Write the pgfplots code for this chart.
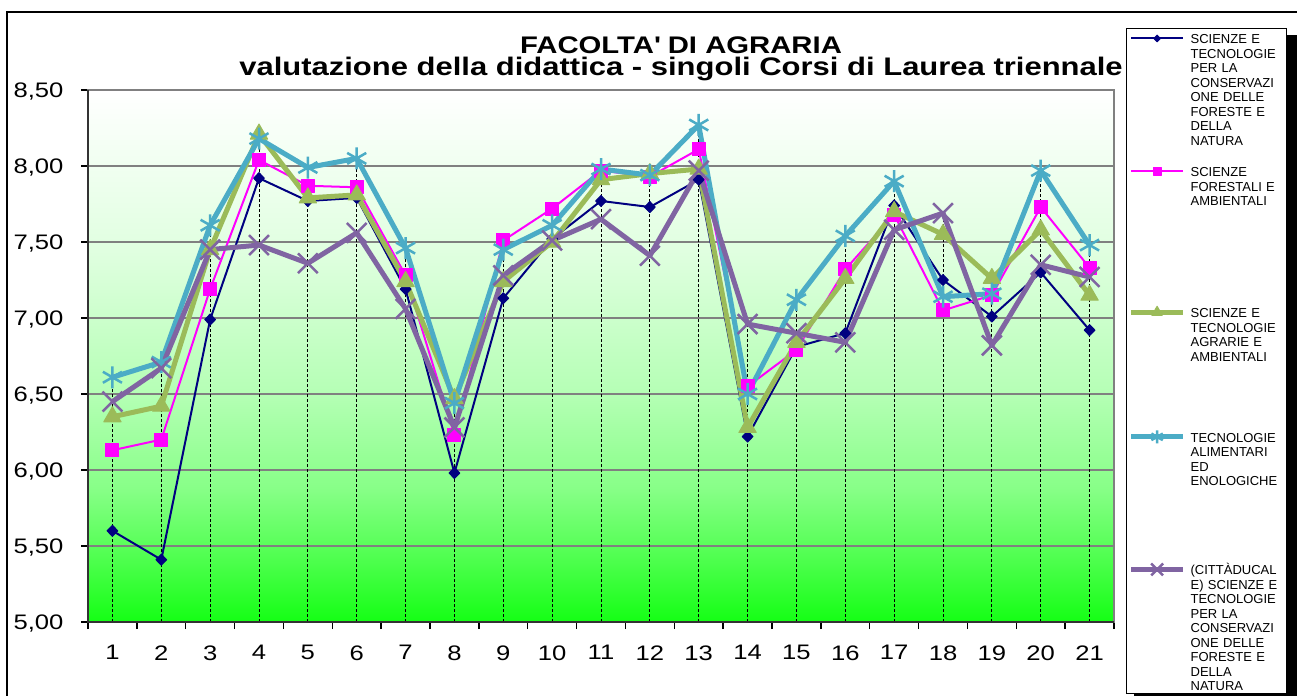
\documentclass[border=0pt]{standalone}
\usepackage{pgfplots}
\pgfplotsset{compat=1.18}
\usepackage{pgfplotstable}
\usepackage{fontspec}
\setmainfont{Liberation Sans}[FakeStretch=1.22]
\newfontfamily\legfont{Liberation Sans}

\definecolor{navyc}{RGB}{0,0,128}
\definecolor{magc}{RGB}{255,0,255}
\definecolor{grnc}{RGB}{155,187,89}
\definecolor{cyac}{RGB}{75,172,198}
\definecolor{purc}{RGB}{128,100,162}

\pgfdeclareverticalshading{plotgrad}{100bp}{rgb(0bp)=(0.08,1,0.08); rgb(25bp)=(0.08,1,0.08); rgb(31bp)=(0.31,1,0.31); rgb(37.5bp)=(0.53,1,0.53); rgb(46.5bp)=(0.71,1,0.71); rgb(60bp)=(0.88,1,0.88); rgb(75bp)=(1,1,1); rgb(100bp)=(1,1,1)}

\newcommand\LS{\rule{0pt}{12bp}}
\newcommand\LD[1]{\rule[-#1]{0pt}{#1}}

\pgfplotstableread{
c nav mag grn cya pur top
1  5.60 6.13 6.35 6.61 6.45 6.61
2  5.41 6.20 6.42 6.71 6.67 6.71
3  6.99 7.19 7.45 7.61 7.45 7.61
4  7.92 8.04 8.21 8.18 7.48 8.21
5  7.77 7.87 7.79 7.99 7.36 7.99
6  7.79 7.86 7.81 8.05 7.56 8.05
7  7.19 7.28 7.24 7.46 7.06 7.46
8  5.98 6.23 6.47 6.44 6.28 6.47
9  7.13 7.51 7.24 7.45 7.28 7.51
10 7.52 7.72 7.50 7.61 7.51 7.72
11 7.77 7.97 7.91 7.98 7.65 7.98
12 7.73 7.93 7.95 7.94 7.41 7.95
13 7.91 8.11 7.98 8.27 7.97 8.27
14 6.22 6.55 6.28 6.50 6.96 6.96
15 6.81 6.79 6.84 7.12 6.90 7.12
16 6.90 7.32 7.26 7.54 6.84 7.54
17 7.74 7.68 7.70 7.90 7.58 7.90
18 7.25 7.05 7.55 7.14 7.69 7.69
19 7.01 7.15 7.26 7.16 6.82 7.26
20 7.30 7.73 7.58 7.97 7.35 7.97
21 6.92 7.33 7.15 7.48 7.27 7.48
}\data

\begin{document}
\begin{tikzpicture}
\path[use as bounding box] (0bp,0bp) rectangle (1297bp,-696bp);
\draw[line width=2bp] (7bp,-698bp) -- (7bp,-12bp) -- (1299bp,-12bp);
% legend shadow
\fill[black] (1134bp,-35bp) rectangle (1300bp,-700bp);
\begin{axis}[
  at={(88bp,-622bp)}, anchor=south west,
  scale only axis, width=1026bp, height=532bp,
  xmin=0.5, xmax=21.5, ymin=5, ymax=8.5,
  xtick={1,...,21},
  minor xtick={0.5,1.5,...,21.5},
  ytick={5,5.5,6,6.5,7,7.5,8,8.5},
  tick align=outside, tick pos=left,
  major x tick style={draw=none},
  minor x tick style={black, line width=1.5bp},
  y tick style={black, line width=1.5bp},
  major tick length=7bp, minor tick length=7bp,
  ymajorgrids,
  major grid style={black!50, line width=1.5bp},
  axis line style={black!50, line width=1.5bp},
  axis background/.style={shading=plotgrad},
  tick label style={font=\fontsize{21bp}{25bp}\selectfont},
  xticklabel style={yshift=-13bp},
  /pgf/number format/assume math mode=true,
  yticklabel style={xshift=-14bp, yshift=-2bp, /pgf/number format/.cd,fixed,fixed zerofill,precision=2,use comma},
  after end axis/.code={\draw[black!80, line width=1.5bp] (rel axis cs:0,1) -- (rel axis cs:0,0) -- (rel axis cs:1,0);},
  legend style={
    at={(1.01121,1.11654)}, anchor=north west,
    draw=black, line width=1.2bp, fill=white,
    inner xsep=2.5bp, inner ysep=2.5bp,
    row sep=0pt, /tikz/column sep=5bp,
    font=\legfont\fontsize{13bp}{14.5bp}\selectfont,
    cells={anchor=north west},
    nodes={inner sep=0pt, text depth=, anchor=north west, text width=93bp, align=left},
  },
  legend image code/.code={\draw[mark repeat=2, mark phase=2, yshift=-7.35bp, #1, /tikz/every mark/.append style={scale=0.6}] plot coordinates {(0bp,0bp) (26bp,0bp) (52bp,0bp)};},
]
\addplot[ycomb, black, line width=0.9bp, dash pattern=on 3bp off 2bp, mark=none, forget plot] table[x=c,y=top]{\data};

\addplot[navyc, line width=2bp, line join=round, mark=diamond*, mark size=5.5bp, mark options={xscale=1.3, fill=navyc, solid, line width=1bp}] table[x=c,y=nav]{\data};
\addlegendentry{\LS SCIENZE E\\TECNOLOGIE\\PER LA\\CONSERVAZI\\ONE DELLE\\FORESTE E\\DELLA\\NATURA\LD{18.8bp}}

\addplot[magc, line width=2bp, line join=round, mark=square*, mark size=6.5bp, mark options={fill=magc, solid, line width=1bp}] table[x=c,y=mag]{\data};
\addlegendentry{\LS SCIENZE\\FORESTALI E\\AMBIENTALI\LD{99.3bp}}

\addplot[grnc, line width=5bp, line join=round, mark=triangle*, mark size=10bp, mark options={fill=grnc, solid, line width=1bp}] table[x=c,y=grn]{\data};
\addlegendentry{\LS SCIENZE E\\TECNOLOGIE\\AGRARIE E\\AMBIENTALI\LD{68.5bp}}

\addplot[cyac, line width=5bp, line join=round, mark=asterisk, mark size=11bp, mark options={solid, line width=2.5bp}] table[x=c,y=cya]{\data};
\addlegendentry{\LS TECNOLOGIE\\ALIMENTARI\\ED\\ENOLOGICHE\LD{76.5bp}}

\addplot[purc, line width=5bp, line join=round, mark=x, mark size=14bp, mark options={solid, line width=2.5bp}] table[x=c,y=pur]{\data};
\addlegendentry{\LS (CITTÀDUCAL\\E) SCIENZE E\\TECNOLOGIE\\PER LA\\CONSERVAZI\\ONE DELLE\\FORESTE E\\DELLA\\NATURA}
\end{axis}
\node[anchor=base, font=\bfseries\fontsize{24bp}{26bp}\selectfont, inner sep=0pt] at (681bp,-53.5bp) {FACOLTA\textquotesingle{} DI AGRARIA};
\node[anchor=base, font=\bfseries\fontsize{25.4bp}{28bp}\selectfont, inner sep=0pt] at (681bp,-75.3bp) {valutazione della didattica - singoli Corsi di Laurea triennale};
\end{tikzpicture}
\end{document}
